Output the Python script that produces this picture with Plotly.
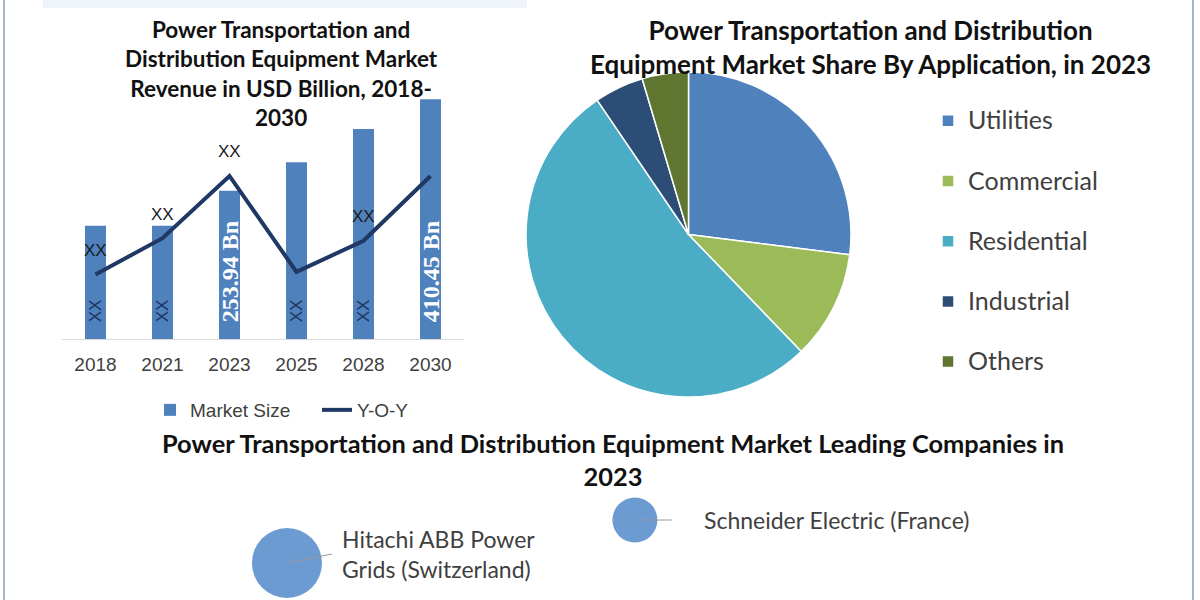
import plotly.graph_objects as go

# ---------------- data ----------------
years = ["2018", "2021", "2023", "2025", "2028", "2030"]
market_size = [194, 194, 253.94, 302.6, 359.5, 410.45]
yoy = [2.5, 3.9, 6.3, 2.6, 3.8, 6.3]
bar_labels = ["XX", "XX", "253.94 Bn", "XX", "XX", "410.45 Bn"]
yoy_labels = ["XX", "XX", "XX", "", "XX", ""]

apps = ["Utilities", "Commercial", "Residential", "Industrial", "Others"]
app_share = [27.0, 10.8, 52.7, 4.9, 4.6]
app_colors = ["#4F81BD", "#9BBB59", "#4BACC6", "#2C4D75", "#5F7530"]

companies = ["Hitachi ABB Power<br>Grids (Switzerland)", "Schneider Electric (France)"]
company_x = [1, 2]
company_y = [1, 2]
company_size = [70, 45]

# ---------------- styles ----------------
SANS = "Liberation Sans"
LATO = "Lato"
BAR_BLUE = "#4F81BD"
NAVY = "#1F3864"
TXT = "#404040"

def px_x(p):
    return p / 1200.0

def px_y(p):
    return 1 - p / 600.0

fig = go.Figure()

fig.add_trace(go.Bar(
    x=years, y=market_size, name="Market Size",
    marker=dict(color=BAR_BLUE, line=dict(width=0)),
    legend="legend", hoverinfo="x+y",
))
fig.add_trace(go.Scatter(
    x=years, y=yoy, name="Y-O-Y", mode="lines", yaxis="y2",
    line=dict(color=NAVY, width=4), legend="legend",
))

legend_labels = ["<span style='font-size:25px'>%s</span><br>\u00a0" % a for a in apps]
fig.add_trace(go.Pie(
    labels=legend_labels, values=app_share, sort=False, direction="clockwise",
    rotation=0, textinfo="none", hovertext=apps, hoverinfo="text+percent",
    marker=dict(colors=app_colors, line=dict(color="white", width=1.5)),
    domain=dict(x=[px_x(526), px_x(851)], y=[px_y(397), px_y(72)]),
    legend="legend2", showlegend=True,
))

fig.add_trace(go.Scatter(
    x=company_x, y=company_y, mode="markers", xaxis="x3", yaxis="y3",
    marker=dict(size=company_size, sizemode="diameter", color="#6C9BD2",
                opacity=1, line=dict(width=0)),
    text=companies, hoverinfo="text", showlegend=False,
))

ann = []
ann.append(dict(
    x=px_x(281), y=px_y(74), xref="paper", yref="paper", showarrow=False,
    xanchor="center", yanchor="middle",
    text="Power Transportation and<br>Distribution Equipment Market<br>Revenue in USD Billion, 2018-<br>2030",
    font=dict(family=LATO, size=22.5, color="#111111", weight="bold"), align="center",
))
ann.append(dict(
    x=px_x(870), y=px_y(47), xref="paper", yref="paper", showarrow=False,
    xanchor="center", yanchor="middle",
    text="Power Transportation and Distribution<br>Equipment Market Share By Application, in 2023",
    font=dict(family=LATO, size=26, color="#111111", weight="bold"), align="center",
))
ann.append(dict(
    x=px_x(613), y=px_y(459), xref="paper", yref="paper", showarrow=False,
    xanchor="center", yanchor="middle",
    text="Power Transportation and Distribution Equipment Market Leading Companies in<br>2023",
    font=dict(family=LATO, size=25.4, color="#111111", weight="bold"), align="center",
))

# category index positions of each year on the bar chart axis
for i, (v, lab) in enumerate(zip(yoy, yoy_labels)):
    if lab:
        ann.append(dict(x=i, y=v, xref="x", yref="y2", text=lab, showarrow=False,
                        xanchor="center", yanchor="middle",
                        yshift=24, font=dict(family=SANS, size=17, color="#1a1a1a")))

for i, lab in enumerate(bar_labels):
    is_val = lab != "XX"
    ann.append(dict(
        x=i, y=0, xref="x", yref="y", text=lab, showarrow=False, textangle=-90,
        xanchor="center", yanchor="bottom", yshift=15,
        font=dict(family="Liberation Serif" if is_val else SANS,
                  size=24 if is_val else 17,
                  color="white" if is_val else NAVY,
                  weight="bold" if is_val else "normal"),
    ))

# company labels with connector lines
ann.append(dict(
    x=company_x[0], y=company_y[0], xref="x3", yref="y3", text=companies[0],
    showarrow=True, arrowhead=0, arrowwidth=1, arrowcolor="#9A9A9A",
    ax=45, ay=-9, xanchor="left", align="left", borderpad=9,
    font=dict(family=LATO, size=23, color=TXT),
))
ann.append(dict(
    x=company_x[1], y=company_y[1], xref="x3", yref="y3", text=companies[1],
    showarrow=True, arrowhead=0, arrowwidth=1, arrowcolor="#9A9A9A",
    ax=37, ay=0, xanchor="left", align="left", borderpad=31,
    font=dict(family=LATO, size=23, color=TXT),
))

shapes = [
    dict(type="rect", xref="paper", yref="paper", x0=px_x(43), x1=px_x(527),
         y0=px_y(8), y1=1, fillcolor="#EEF4F8", line=dict(width=0), layer="below"),
    dict(type="line", xref="paper", yref="paper", x0=px_x(4), x1=px_x(4), y0=0, y1=1,
         line=dict(color="#8A9BAE", width=1.5)),
    dict(type="line", xref="paper", yref="paper", x0=px_x(1193), x1=px_x(1193), y0=0, y1=1,
         line=dict(color="#8A9BAE", width=1.5)),
]

fig.update_layout(
    width=1200, height=600, margin=dict(l=0, r=0, t=0, b=0, autoexpand=False),
    paper_bgcolor="white", plot_bgcolor="white",
    bargap=0.687,
    xaxis=dict(type="category", domain=[px_x(62), px_x(464)], range=[-0.5, len(years) - 0.5],
               showline=True, linecolor="#D9D9D9", linewidth=1, showgrid=False,
               ticks="outside", ticklen=8, tickcolor="rgba(0,0,0,0)",
               tickfont=dict(family=SANS, size=19, color=TXT), fixedrange=True,
               automargin=False),
    yaxis=dict(domain=[px_y(339.3), px_y(80)], range=[0, 443.2], visible=False,
               fixedrange=True),
    yaxis2=dict(overlaying="y", range=[0, 10], visible=False, fixedrange=True),
    xaxis3=dict(domain=[0, 1], anchor="y3", range=[0.1753, 3.624], visible=False),
    yaxis3=dict(domain=[0, 0.2], anchor="x3", range=[0.14, 2.93], visible=False),
    legend=dict(orientation="h", x=px_x(150), y=px_y(410), xanchor="left", yanchor="middle",
                entrywidth=122, entrywidthmode="pixels",
                font=dict(family=SANS, size=19, color=TXT), bgcolor="rgba(0,0,0,0)"),
    legend2=dict(orientation="v", x=px_x(928), y=px_y(100), xanchor="left", yanchor="top",
                 font=dict(family=LATO, size=22, color=TXT), valign="top",
                 bgcolor="rgba(0,0,0,0)"),
    annotations=ann, shapes=shapes, showlegend=True,
)

fig.write_html("out.html", config={"displayModeBar": False},
               post_script="document.body.style.margin='0px';")
